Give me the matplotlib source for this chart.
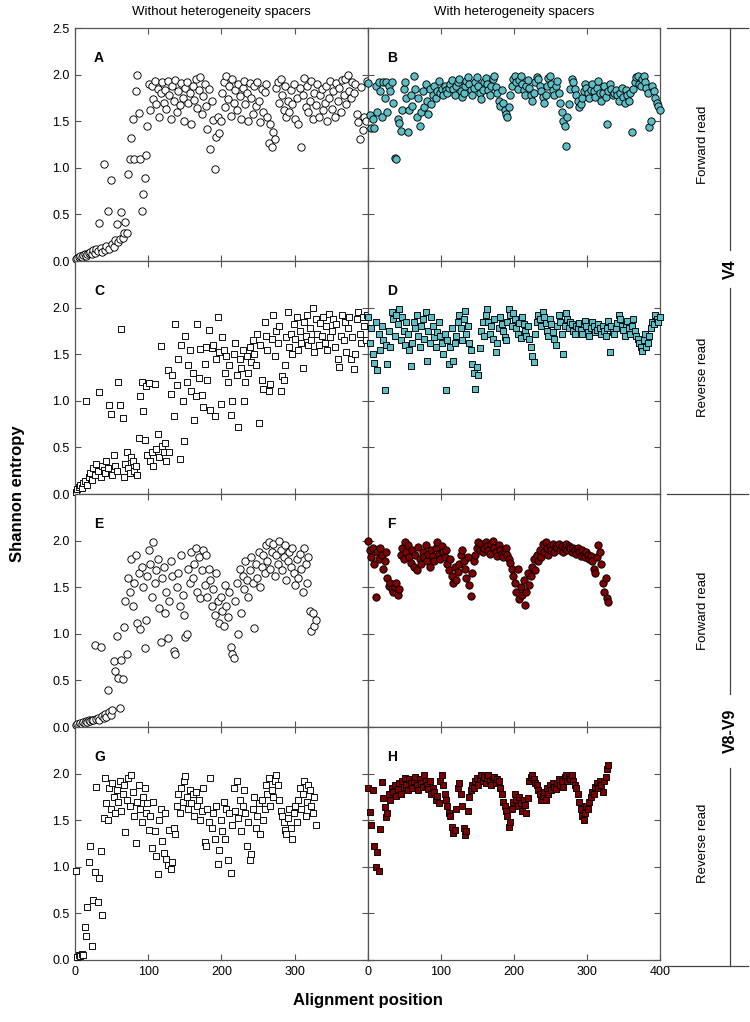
import numpy as np
import matplotlib
matplotlib.use("Agg")
import matplotlib.pyplot as plt
from matplotlib.lines import Line2D

plt.rcParams["font.family"] = ["Liberation Sans", "DejaVu Sans"]

# Shannon entropy per alignment position (every second position, starting at 1)
fwd_v4_plain = [
    0.02, 0.03, 0.04, 0.05, 0.04, 0.06, 0.07, 0.05, 0.08, 0.09,
    0.10, 0.07, 0.12, 0.09, 0.13, 0.11, 0.41, 0.14, 0.10, 1.04,
    0.12, 0.16, 0.54, 0.13, 0.87, 0.18, 0.15, 0.22, 0.40, 0.20,
    0.24, 0.53, 0.25, 0.30, 0.42, 0.30, 0.93, 1.09, 1.32, 1.52,
    1.09, 1.82, 2.00, 1.59, 1.09, 0.54, 0.72, 0.89, 1.14, 1.45,
    1.90, 1.62, 1.88, 1.74, 1.93, 1.68, 1.85, 1.55, 1.80, 1.92,
    1.70, 1.84, 1.63, 1.93, 1.78, 1.52, 1.88, 1.72, 1.94, 1.60,
    1.82, 1.67, 1.91, 1.75, 1.50, 1.86, 1.92, 1.69, 1.80, 1.47,
    1.88, 1.73, 1.95, 1.64, 1.83, 1.97, 1.58, 1.77, 1.90, 1.66,
    1.42, 1.85, 1.20, 1.72, 1.51, 0.99, 1.33, 1.55, 1.37, 1.50,
    1.80, 1.92, 1.65, 1.98, 1.74, 1.88, 1.56, 1.95, 1.70, 1.84,
    1.62, 1.90, 1.77, 1.52, 1.86, 1.93, 1.68, 1.80, 1.50, 1.91,
    1.75, 1.58, 1.88, 1.66, 1.92, 1.72, 1.49, 1.85, 1.60, 1.81,
    1.90, 1.55, 1.27, 1.47, 1.22, 1.38, 1.31, 1.86, 1.92, 1.70,
    1.95, 1.78, 1.62, 1.88, 1.55, 1.72, 1.60, 1.83, 1.68, 1.90,
    1.52, 1.75, 1.47, 1.86, 1.22, 1.78, 1.96, 1.65, 1.88, 1.60,
    1.72, 1.93, 1.52, 1.80, 1.67, 1.90, 1.55, 1.78, 1.85, 1.62,
    1.70, 1.88, 1.50, 1.75, 1.93, 1.63, 1.82, 1.55, 1.91, 1.72,
    1.86, 1.60, 1.94, 1.78, 1.95, 1.68, 2.00, 1.82, 1.75, 1.92,
    1.80, 1.90, 1.58, 1.49, 1.31, 1.87, 1.41, 1.55, 1.50, 1.93,
]
fwd_v4_spacer = [
    1.91, 1.57, 1.43, 1.52, 1.43, 1.88, 1.60, 1.92, 1.82, 1.55,
    1.92, 1.75, 1.92, 1.60, 1.88, 1.82, 1.92, 1.70, 1.11, 1.09,
    1.52, 1.48, 1.40, 1.62, 1.85, 1.92, 1.75, 1.38, 1.62, 1.78,
    1.66, 1.98, 1.85, 1.55, 1.75, 1.45, 1.60, 1.82, 1.65, 1.90,
    1.72, 1.58, 1.85, 1.68, 1.78, 1.88, 1.75, 1.82, 1.93, 1.80,
    1.85, 1.78, 1.88, 1.83, 1.80, 1.86, 1.90, 1.94, 1.85, 1.78,
    1.88, 1.92, 1.95, 1.82, 1.76, 1.80, 1.88, 1.93, 1.97, 1.90,
    1.84, 1.78, 1.86, 1.92, 1.97, 1.88, 1.80, 1.74, 1.84, 1.92,
    1.96, 1.90, 1.84, 1.78, 1.88, 1.95, 1.98, 1.87, 1.80, 1.72,
    1.66, 1.84, 1.70, 1.62, 1.58, 1.55, 1.65, 1.78, 1.88, 1.95,
    1.98, 1.92, 1.85, 1.94, 1.98, 1.90, 1.83, 1.78, 1.88, 1.94,
    1.86, 1.78, 1.72, 1.80, 1.92, 1.97, 1.95, 1.88, 1.82, 1.76,
    1.70, 1.78, 1.88, 1.96, 1.98, 1.90, 1.84, 1.78, 1.88, 1.93,
    1.80, 1.70, 1.60, 1.50, 1.45, 1.23, 1.55, 1.68, 1.85, 1.95,
    1.92, 1.85, 1.78, 1.72, 1.65, 1.68, 1.75, 1.82, 1.90, 1.86,
    1.80, 1.75, 1.84, 1.90, 1.82, 1.76, 1.86, 1.93, 1.80, 1.72,
    1.80, 1.88, 1.76, 1.47, 1.82, 1.90, 1.85, 1.78, 1.80, 1.84,
    1.78, 1.72, 1.80, 1.86, 1.76, 1.70, 1.84, 1.78, 1.72, 1.80,
    1.38, 1.85, 1.92, 1.97, 1.98, 1.90, 1.88, 1.95, 1.98, 1.92,
    1.86, 1.80, 1.44, 1.50, 1.88, 1.82, 1.75, 1.70, 1.66, 1.62,
]
rev_v4_plain = [
    0.02, 0.05, 0.08, 0.10, 0.06, 0.12, 0.14, 1.00, 0.10, 0.18,
    0.22, 0.15, 0.28, 0.20, 0.32, 0.25, 1.09, 0.18, 0.30, 0.26,
    0.22, 0.35, 0.28, 0.96, 0.86, 0.20, 0.42, 0.30, 0.25, 1.20,
    0.96, 1.77, 0.82, 0.18, 0.32, 0.45, 0.28, 0.22, 0.40, 0.35,
    0.25, 0.30, 0.20, 0.60, 1.05, 1.20, 0.89, 0.58, 1.16, 0.42,
    1.19, 0.35, 0.45, 0.30, 1.18, 0.48, 0.64, 0.40, 1.59, 0.52,
    0.45, 0.55, 0.35, 1.33, 0.45, 1.07, 1.28, 0.84, 1.82, 1.17,
    1.45, 0.38, 1.60, 1.00, 0.57, 1.70, 1.20, 1.38, 1.54, 1.10,
    1.30, 0.79, 1.05, 1.82, 1.25, 1.56, 1.06, 0.93, 1.40, 1.58,
    1.22, 1.76, 0.90, 1.57, 1.60, 0.84, 1.45, 1.90, 1.52, 0.97,
    1.68, 1.55, 1.30, 1.48, 1.20, 1.38, 0.85, 1.00, 1.50, 1.62,
    1.28, 0.72, 1.45, 1.35, 1.55, 1.00, 1.20, 1.48, 1.30, 1.58,
    1.42, 1.65, 1.50, 1.38, 1.72, 0.76, 1.60, 1.22, 1.13, 1.85,
    1.70, 1.55, 1.10, 1.18, 1.66, 1.92, 1.48, 1.75, 1.62, 1.80,
    1.10, 1.27, 1.22, 1.38, 1.68, 1.95, 1.58, 1.72, 1.50, 1.82,
    1.66, 1.90, 1.55, 1.75, 1.62, 1.35, 1.85, 1.70, 1.92, 1.60,
    1.78, 1.65, 2.00, 1.52, 1.88, 1.72, 1.60, 1.83, 1.70, 1.90,
    1.62, 1.80, 1.55, 1.93, 1.68, 1.75, 1.88, 1.58, 1.82, 1.45,
    1.36, 1.70, 1.92, 1.65, 1.85, 1.52, 1.78, 1.90, 1.45, 1.68,
    1.34, 1.50, 1.88, 1.95, 1.72, 1.62, 1.90, 1.80, 1.65, 1.92,
]
rev_v4_spacer = [
    1.90, 1.62, 1.78, 1.50, 1.41, 1.85, 1.33, 1.72, 1.55, 1.80,
    1.65, 1.12, 1.60, 1.40, 1.75, 1.58, 1.95, 1.88, 1.70, 1.92,
    1.82, 1.98, 1.65, 1.90, 1.75, 1.60, 1.85, 1.72, 1.55, 1.37,
    1.62, 1.85, 1.78, 1.92, 1.70, 1.58, 1.80, 1.88, 1.66, 1.95,
    1.43, 1.75, 1.62, 1.90, 1.80, 1.68, 1.58, 1.74, 1.85, 1.70,
    1.62, 1.50, 1.72, 1.12, 1.65, 1.40, 1.58, 1.78, 1.43, 1.62,
    1.70, 1.85, 1.92, 1.78, 1.65, 1.88, 1.96, 1.72, 1.80, 1.62,
    1.55, 1.40, 1.30, 1.13, 1.36, 1.28, 1.57, 1.75, 1.85, 1.70,
    1.92, 1.98, 1.85, 1.72, 1.80, 1.66, 1.88, 1.52, 1.62, 1.78,
    1.90, 1.82, 1.75, 1.68, 1.65, 1.85, 1.98, 1.92, 1.80, 1.94,
    1.88, 1.78, 1.72, 1.84, 1.67, 1.90, 1.82, 1.75, 1.70, 1.80,
    1.66, 1.58, 1.48, 1.42, 1.72, 1.85, 1.92, 1.88, 1.80, 1.95,
    1.90, 1.83, 1.75, 1.70, 1.88, 1.82, 1.74, 1.66, 1.60, 1.80,
    1.92, 1.85, 1.72, 1.50, 1.80, 1.94, 1.88, 1.78, 1.85, 1.82,
    1.75, 1.72, 1.80, 1.78, 1.84, 1.76, 1.72, 1.82, 1.86, 1.80,
    1.74, 1.70, 1.78, 1.85, 1.80, 1.74, 1.76, 1.82, 1.78, 1.72,
    1.80, 1.75, 1.70, 1.78, 1.86, 1.52, 1.80, 1.74, 1.72, 1.78,
    1.84, 1.92, 1.88, 1.80, 1.76, 1.70, 1.82, 1.86, 1.78, 1.72,
    1.80, 1.88, 1.75, 1.70, 1.66, 1.62, 1.58, 1.53, 1.65, 1.72,
    1.58, 1.62, 1.70, 1.78, 1.85, 1.82, 1.92, 1.88, 1.85, 1.90,
]
fwd_v89_plain = [
    0.02, 0.03, 0.02, 0.04, 0.03, 0.05, 0.04, 0.06, 0.05, 0.07,
    0.06, 0.08, 0.07, 0.88, 0.09, 0.10, 0.08, 0.86, 0.12, 0.10,
    0.14, 0.11, 0.40, 0.16, 0.13, 0.18, 0.71, 0.60, 0.98, 0.53,
    0.20, 0.72, 0.52, 1.07, 1.35, 0.78, 1.60, 1.45, 1.80, 1.30,
    1.55, 1.85, 1.12, 1.65, 1.05, 1.72, 1.50, 0.85, 1.15, 1.62,
    1.90, 1.75, 1.40, 1.98, 1.55, 1.68, 1.80, 1.28, 0.91, 1.60,
    1.72, 1.22, 1.45, 0.95, 1.35, 1.78, 1.62, 0.82, 0.78, 1.50,
    1.65, 1.30, 1.85, 1.42, 1.20, 0.97, 1.00, 1.70, 1.55, 1.88,
    1.60, 1.75, 1.92, 1.45, 1.82, 1.38, 1.68, 1.90, 1.52, 1.85,
    1.40, 1.70, 1.58, 1.30, 1.48, 1.20, 1.65, 1.35, 1.12, 1.40,
    1.25, 1.08, 1.52, 1.30, 1.18, 1.45, 0.86, 0.78, 0.74, 1.35,
    1.55, 1.00, 1.70, 1.22, 1.62, 1.48, 1.78, 1.58, 1.40, 1.68,
    1.82, 1.55, 1.06, 1.75, 1.60, 1.88, 1.50, 1.72, 1.85, 1.65,
    1.95, 1.78, 1.98, 1.70, 1.88, 1.96, 1.62, 1.85, 1.75, 2.00,
    1.90, 1.68, 1.82, 1.95, 1.58, 1.78, 1.88, 1.72, 1.92, 1.65,
    1.52, 1.80, 1.60, 1.86, 1.70, 1.45, 1.92, 1.75, 1.55, 1.82,
    1.25, 1.03, 1.22, 1.08, 1.15,
]
fwd_v89_spacer = [
    2.00, 1.90, 1.82, 1.92, 1.75, 1.40, 1.88, 1.80, 1.92, 1.85,
    1.69, 1.78, 1.88, 1.60, 1.51, 1.55, 1.48, 1.45, 1.50, 1.55,
    1.42, 1.48, 1.85, 1.92, 1.80, 1.98, 1.88, 1.95, 1.82, 1.76,
    1.90, 1.72, 1.85, 1.68, 1.93, 1.80, 1.75, 1.88, 1.82, 1.95,
    1.78, 1.86, 1.72, 1.90, 1.84, 1.78, 1.92, 1.98, 1.86, 1.80,
    1.94, 1.88, 1.82, 1.90, 1.75, 1.68, 1.80, 1.62, 1.55, 1.72,
    1.58, 1.66, 1.75, 1.85, 1.90, 1.78, 1.70, 1.60, 1.82, 1.52,
    1.41, 1.65, 1.78, 1.85, 1.92, 1.98, 1.90, 1.96, 1.88, 1.92,
    1.98, 1.94, 1.90, 1.86, 1.96, 2.00, 1.92, 1.88, 1.84, 1.95,
    1.90, 1.86, 1.82, 1.88, 1.92, 1.85, 1.80, 1.76, 1.70, 1.62,
    1.55, 1.45, 1.70, 1.37, 1.50, 1.42, 1.58, 1.31, 1.45, 1.65,
    1.52, 1.62, 1.72, 1.80, 1.68, 1.85, 1.78, 1.90, 1.82, 1.96,
    1.88, 1.98, 1.92, 1.85, 1.94, 1.90, 1.96, 1.88, 1.94, 1.92,
    1.96, 1.90, 1.94, 1.88, 1.92, 1.96, 1.90, 1.94, 1.92, 1.88,
    1.92, 1.90, 1.86, 1.92, 1.88, 1.84, 1.90, 1.86, 1.82, 1.88,
    1.85, 1.80, 1.84, 1.78, 1.70, 1.65, 1.82, 1.95, 1.88, 1.75,
    1.55, 1.45, 1.60, 1.38, 1.34,
]
rev_v89_plain = [
    0.96, 0.03, 0.05, 0.04, 0.06, 0.05, 0.35, 0.26, 0.57, 1.05,
    1.22, 0.15, 0.64, 0.94, 1.86, 0.62, 0.88, 1.17, 0.48, 1.52,
    1.95, 1.68, 1.50, 1.85, 1.62, 1.90, 1.75, 1.58, 1.82, 1.70,
    1.92, 1.60, 1.78, 1.88, 1.37, 1.72, 1.95, 1.65, 1.98, 1.80,
    1.55, 1.26, 1.70, 1.88, 1.62, 1.48, 1.75, 1.85, 1.58, 1.68,
    1.40, 1.55, 1.20, 1.70, 1.38, 1.12, 0.92, 1.50, 1.62, 1.28,
    1.15, 1.58, 1.08, 1.02, 1.40, 0.98, 1.05, 1.42, 1.35, 1.65,
    1.78, 1.58, 1.85, 1.70, 1.92, 1.97, 1.75, 1.62, 1.82, 1.68,
    1.78, 1.55, 1.80, 1.65, 1.72, 1.50, 1.60, 1.85, 1.27, 1.22,
    1.62, 1.48, 1.95, 1.42, 1.58, 1.30, 1.65, 1.03, 1.18, 1.50,
    1.38, 1.70, 1.30, 1.62, 1.07, 1.58, 0.93, 1.45, 1.85, 1.60,
    1.92, 1.52, 1.72, 1.38, 1.65, 1.82, 1.58, 1.22, 1.48, 1.07,
    1.14, 1.62, 1.75, 1.42, 1.55, 1.68, 1.35, 1.72, 1.50, 1.62,
    1.88, 1.78, 1.95, 1.65, 1.82, 1.75, 1.92, 1.98, 1.88, 1.72,
    1.60, 1.55, 1.48, 1.40, 1.35, 1.52, 1.62, 1.42, 1.30, 1.58,
    1.65, 1.48, 1.72, 1.85, 1.62, 1.78, 1.92, 1.55, 1.70, 1.88,
    1.82, 1.65, 1.58, 1.75, 1.45,
]
rev_v89_spacer = [
    1.85, 1.59, 1.45, 1.82, 1.22, 1.00, 1.16, 0.95, 1.41, 1.91,
    1.74, 1.64, 1.53, 1.58, 1.78, 1.72, 1.85, 1.80, 1.88, 1.76,
    1.84, 1.90, 1.78, 1.92, 1.86, 1.95, 1.88, 1.82, 1.94, 1.90,
    1.85, 1.92, 1.96, 1.88, 1.82, 1.94, 1.90, 1.86, 1.98, 1.92,
    1.88, 1.84, 1.92, 1.78, 1.85, 1.80, 1.72, 1.76, 1.68, 1.92,
    1.98, 1.88, 1.78, 1.72, 1.65, 1.58, 1.55, 1.43, 1.36, 1.40,
    1.62, 1.85, 1.90, 1.78, 1.65, 1.42, 1.34, 1.38, 1.60, 1.75,
    1.82, 1.88, 1.85, 1.92, 1.95, 1.88, 1.94, 1.98, 1.92, 1.96,
    1.90, 1.95, 1.98, 1.92, 1.88, 1.94, 1.96, 1.90, 1.94, 1.92,
    1.85, 1.78, 1.70, 1.65, 1.60, 1.55, 1.43, 1.48, 1.62, 1.70,
    1.78, 1.72, 1.65, 1.75, 1.68, 1.60, 1.72, 1.66, 1.58, 1.74,
    1.92, 1.96, 1.98, 1.94, 1.90, 1.88, 1.82, 1.78, 1.72, 1.76,
    1.80, 1.72, 1.85, 1.78, 1.88, 1.82, 1.90, 1.86, 1.84, 1.90,
    1.94, 1.88, 1.92, 1.86, 1.96, 1.98, 1.92, 1.96, 1.94, 1.98,
    1.92, 1.88, 1.85, 1.78, 1.70, 1.62, 1.55, 1.50, 1.58, 1.65,
    1.62, 1.70, 1.75, 1.80, 1.78, 1.86, 1.90, 1.85, 1.92, 1.88,
    1.80, 1.92, 1.96, 2.05, 2.09,
]

panel_letters = ["A", "B", "C", "D", "E", "F", "G", "H"]
col_titles = ["Without heterogeneity spacers", "With heterogeneity spacers"]
read_labels = ["Forward read", "Reverse read", "Forward read", "Reverse read"]
region_labels = ["V4", "V8-V9"]

TEAL = "#5cbfc7"
DARKRED = "#7d0000"

panels = [
    (fwd_v4_plain, "o", "white"), (fwd_v4_spacer, "o", TEAL),
    (rev_v4_plain, "s", "white"), (rev_v4_spacer, "s", TEAL),
    (fwd_v89_plain, "o", "white"), (fwd_v89_spacer, "o", DARKRED),
    (rev_v89_plain, "s", "white"), (rev_v89_spacer, "s", DARKRED),
]

W, H = 750, 1022
fig = plt.figure(figsize=(W / 100, H / 100), dpi=100)

left_px = [75, 367.7]
col_w = 292.7
row_top_px = [28, 261, 494, 727]
row_h = 233

spine_col = "#555555"
for k, (vals, marker, face) in enumerate(panels):
    r, c = divmod(k, 2)
    ax = fig.add_axes([left_px[c] / W, 1 - (row_top_px[r] + row_h) / H, col_w / W, row_h / H])
    pos = np.arange(len(vals)) * 2 + 1
    size = 28 if marker == "o" else 20
    ax.scatter(pos, vals, marker=marker, s=size, facecolor=face, edgecolor="black",
               linewidths=0.65, zorder=3, clip_on=False)
    ax.set_xlim(0, 400)
    ax.set_ylim(0, 2.5)
    ax.set_xticks([0, 100, 200, 300, 400])
    ax.set_yticks([0, 0.5, 1.0, 1.5, 2.0, 2.5])
    ax.tick_params(direction="in", length=4, width=0.8, top=True, right=True,
                   labelsize=9, color=spine_col, pad=4)
    for sp in ax.spines.values():
        sp.set_color(spine_col)
        sp.set_linewidth(0.9)
    if r == 3:
        if c == 0:
            ax.set_xticklabels(["0", "100", "200", "300", ""])
        else:
            ax.set_xticklabels(["0", "100", "200", "300", "400"])
    else:
        ax.set_xticklabels([])
    if c == 0:
        if r == 0:
            ax.set_yticklabels(["0.0", "0.5", "1.0", "1.5", "2.0", "2.5"])
        else:
            ax.set_yticklabels(["0.0", "0.5", "1.0", "1.5", "2.0", ""])
    else:
        ax.set_yticklabels([])
    ax.text(0.065, 0.87, panel_letters[k], transform=ax.transAxes, fontsize=10,
            fontweight="bold", va="center", ha="left")

for c, title in enumerate(col_titles):
    fig.text((left_px[c] + col_w / 2) / W, 1 - 12 / H, title, ha="center", va="center",
             fontsize=9.5)

for r, lab in enumerate(read_labels):
    fig.text(703 / W, 1 - (row_top_px[r] + row_h / 2) / H, lab, rotation=90,
             ha="center", va="center", fontsize=9.5)

# bracket lines on the right
line_kw = dict(color="#444444", linewidth=0.9, transform=fig.transFigure)
for ypx in [28, 494, 966]:
    fig.add_artist(Line2D([667 / W, 748 / W], [1 - ypx / H, 1 - ypx / H], **line_kw))
v_x = 730 / W
fig.add_artist(Line2D([v_x, v_x], [1 - 28 / H, 1 - 250 / H], **line_kw))
fig.add_artist(Line2D([v_x, v_x], [1 - 288 / H, 1 - 694 / H], **line_kw))
fig.add_artist(Line2D([v_x, v_x], [1 - 768 / H, 1 - 966 / H], **line_kw))
fig.text(v_x, 1 - 269 / H, region_labels[0], rotation=90, ha="center", va="center",
         fontsize=11.5, fontweight="bold")
fig.text(v_x, 1 - 731 / H, region_labels[1], rotation=90, ha="center", va="center",
         fontsize=11.5, fontweight="bold")

fig.text(18 / W, 1 - 494 / H, "Shannon entropy", rotation=90, ha="center", va="center",
         fontsize=12, fontweight="bold")
fig.text(368 / W, 1 - 1000 / H, "Alignment position", ha="center", va="center",
         fontsize=12, fontweight="bold")

fig.savefig("out.png", dpi=100)
